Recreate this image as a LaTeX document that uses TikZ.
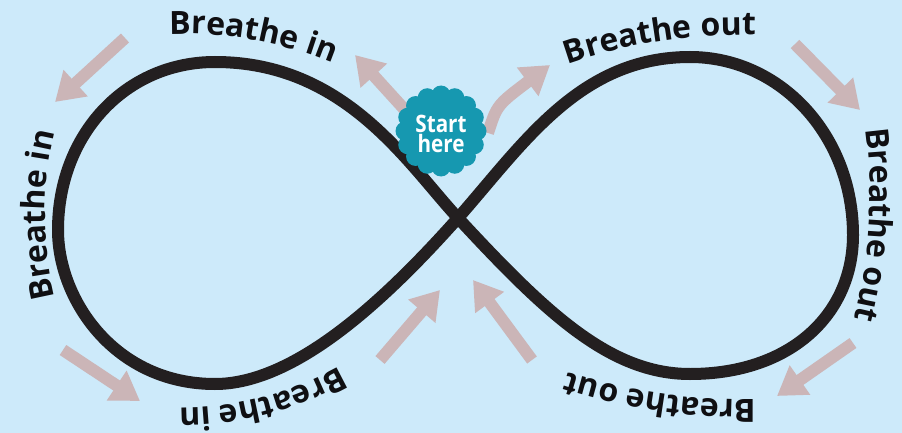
\documentclass[tikz,border=0pt]{standalone}
\usepackage{fontspec}
\setmainfont{Open Sans}
\newfontfamily\badgefont{Open Sans}[FakeStretch=0.86]
\usetikzlibrary{arrows.meta,decorations.text}
\definecolor{bgblue}{RGB}{205,234,250}
\definecolor{loopink}{RGB}{35,31,32}
\definecolor{arrowpink}{RGB}{203,181,183}
\definecolor{badgeteal}{RGB}{22,152,176}
\definecolor{labelink}{RGB}{15,15,18}
\newcommand\lblfont{\fontsize{32}{36}\selectfont\bfseries}
\begin{document}
\begin{tikzpicture}[x=1pt,y=-1pt,
  figureeight/.style={draw=loopink,line width=12pt,line join=round},
  flowarrow/.style={draw=arrowpink,line width=12pt,-{Triangle[width=34pt,length=28pt]}},
  arclabel/.style={decorate,decoration={text along path,text align=center,text color=labelink}},
  badgetext/.style={text=white,font=\badgefont\bfseries\fontsize{24}{24}\selectfont,inner sep=0pt,anchor=base},
]
\fill[bgblue] (0,0) rectangle (902,433);
\useasboundingbox (0,0) rectangle (902,433);

% arrow end points
\coordinate (a1s) at (125,38);  \coordinate (a1e) at (55,102);
\coordinate (a2s) at (405,110); \coordinate (a2e) at (355,55);
\coordinate (a3s) at (488,133); \coordinate (a3e) at (550,65);
\coordinate (a4s) at (795,44);  \coordinate (a4e) at (860,110);
\coordinate (a5s) at (853,343); \coordinate (a5e) at (777,396);
\coordinate (a6s) at (532,360); \coordinate (a6e) at (473,280);
\coordinate (a7s) at (380,360); \coordinate (a7e) at (440,290);
\coordinate (a8s) at (63,350);  \coordinate (a8e) at (140,401);

\draw[flowarrow] (a1s) -- (a1e);
\draw[flowarrow] (a2s) -- (a2e);
\draw[flowarrow] (a3s) .. controls (497,105) .. (a3e);
\draw[flowarrow] (a4s) -- (a4e);
\draw[flowarrow] (a5s) -- (a5e);
\draw[flowarrow] (a6s) -- (a6e);
\draw[flowarrow] (a7s) -- (a7e);
\draw[flowarrow] (a8s) -- (a8e);

% the figure eight
\coordinate (cross) at (458,218);
\draw[figureeight] (cross)
  .. controls (407,163) and (345,62) .. (215,62)
  .. controls (125,62) and (58,135) .. (58,230)
  .. controls (58,300) and (115,384) .. (215,384)
  .. controls (295,384) and (385,300) .. (cross)
  .. controls (524,143) and (580,57) .. (690,57)
  .. controls (780,57) and (853,135) .. (853,235)
  .. controls (853,315) and (790,374) .. (690,374)
  .. controls (610,374) and (546,313) .. cycle;

% start badge
\coordinate (bc) at (441,131);
\fill[badgeteal] (bc) circle[radius=37];
\foreach \a in {0,22.5,...,337.5}
  \fill[badgeteal] ([shift={(\a:36)}]bc) circle[radius=9.5];
\node[badgetext] (start) at (441,132) {Start};
\node[badgetext] (here) at (441,153) {here};

% labels along the loops
\path[arclabel,decoration={text={|\lblfont|Breathe in}}]
  ([shift={(250:390)}]185,424) arc[start angle=250,end angle=310,radius=390];
\path[arclabel,decoration={text={|\lblfont|Breathe out}}]
  ([shift={(231.2:520)}]740,555) arc[start angle=231.2,end angle=291.2,radius=520];
\path[arclabel,decoration={text={|\lblfont|Breathe in}}]
  ([shift={(150:350)}]395,215) arc[start angle=150,end angle=210,radius=350];
\path[arclabel,decoration={text={|\lblfont|Breathe out}}]
  ([shift={(-26.6:502)}]368,195) arc[start angle=-26.6,end angle=33.4,radius=502];
\path[arclabel,decoration={text={|\lblfont|Breathe in}}]
  ([shift={(45.4:325)}]180,83) arc[start angle=45.4,end angle=105.4,radius=325];
\path[arclabel,decoration={text={|\lblfont|Breathe out}}]
  ([shift={(68.4:580)}]745,-180) arc[start angle=68.4,end angle=128.4,radius=580];
\end{tikzpicture}
\end{document}
